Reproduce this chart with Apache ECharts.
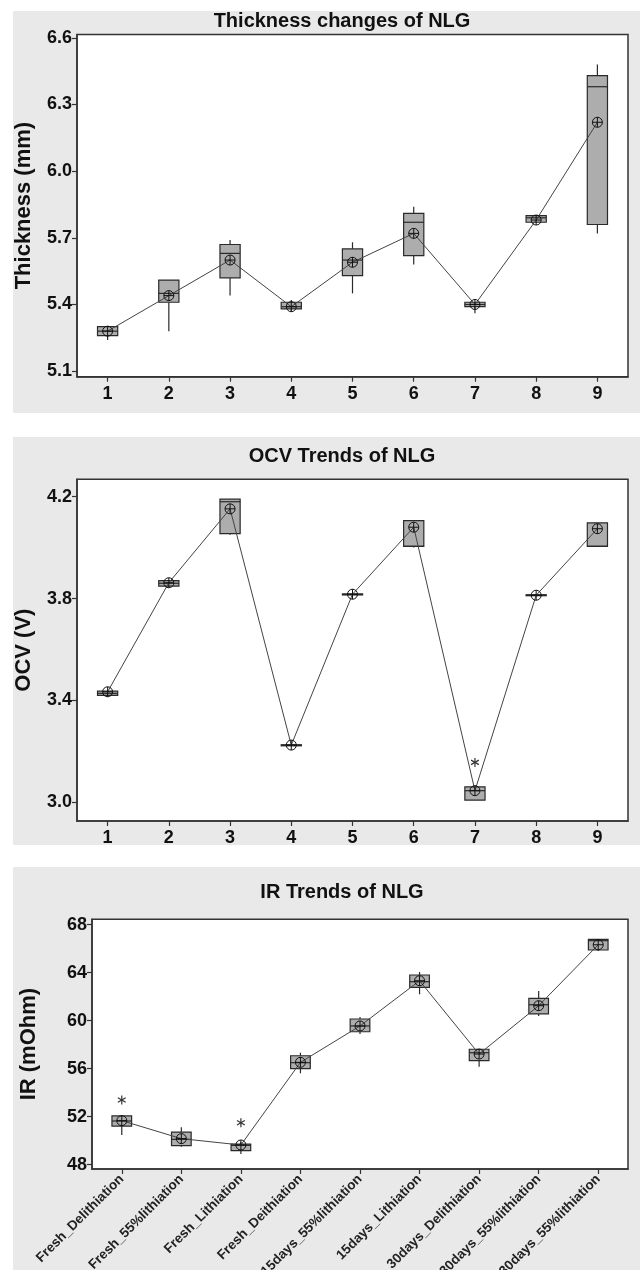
<!DOCTYPE html>
<html><head><meta charset="utf-8">
<script src="https://cdn.jsdelivr.net/npm/echarts@6/dist/echarts.min.js"></script>
<style>html,body{margin:0;padding:0;background:#fff}#c{width:640px;height:1270px}</style>
</head><body><div id="c"></div>
<script>
// ---------- Thickness panel ----------
const thkCategories = ['1','2','3','4','5','6','7','8','9'];
const thkLow  = [5.24, 5.28, 5.44, 5.37, 5.45, 5.58, 5.36, 5.77, 5.72];
const thkQ1   = [5.26, 5.41, 5.52, 5.38, 5.53, 5.62, 5.39, 5.77, 5.76];
const thkMed  = [5.28, 5.45, 5.63, 5.39, 5.60, 5.77, 5.40, 5.79, 6.38];
const thkQ3   = [5.30, 5.51, 5.67, 5.41, 5.65, 5.81, 5.41, 5.80, 6.43];
const thkHigh = [5.30, 5.51, 5.69, 5.42, 5.68, 5.84, 5.41, 5.80, 6.48];
const thkMean = [5.28, 5.44, 5.60, 5.39, 5.59, 5.72, 5.40, 5.78, 6.22];
const thkTicks = [5.1, 5.4, 5.7, 6.0, 6.3, 6.6];

// ---------- OCV panel ----------
const ocvCategories = ['1','2','3','4','5','6','7','8','9'];
const ocvLow  = [3.420, 3.848, 4.050, 3.225, 3.817, 4.000, 3.009, 3.811, 4.005];
const ocvQ1   = [3.420, 3.849, 4.055, 3.225, 3.817, 4.005, 3.009, 3.812, 4.005];
const ocvMed  = [3.428, 3.860, 4.180, 3.225, 3.817, 4.005, 3.046, 3.813, 4.005];
const ocvQ3   = [3.437, 3.870, 4.190, 3.226, 3.818, 4.106, 3.061, 3.815, 4.097];
const ocvHigh = [3.437, 3.870, 4.190, 3.226, 3.818, 4.106, 3.061, 3.815, 4.097];
const ocvMean = [3.434, 3.862, 4.152, 3.225, 3.817, 4.080, 3.046, 3.813, 4.074];
const ocvOutliers = [[6, 3.157]];
const ocvTicks = [3.0, 3.4, 3.8, 4.2];

// ---------- IR panel ----------
const irCategories = ['Fresh_Delithiation','Fresh_55%lithiation','Fresh_Lithiation','Fresh_Deithiation',
  '15days_55%lithiation','15days_Lithiation','30days_Delithiation','30days_55%lithiation','30days_55%lithiation'];
const irLow  = [50.47, 49.50, 48.89, 55.62, 58.89, 62.20, 56.17, 60.39, 65.80];
const irQ1   = [51.22, 49.58, 49.17, 56.00, 59.08, 62.78, 56.67, 60.56, 65.89];
const irMed  = [51.64, 50.11, 49.61, 56.50, 59.56, 63.25, 57.33, 61.33, 66.67];
const irQ3   = [52.06, 50.72, 49.72, 57.08, 60.14, 63.81, 57.62, 61.86, 66.78];
const irHigh = [52.06, 51.11, 49.89, 57.33, 60.30, 64.06, 57.65, 62.47, 66.78];
const irMean = [51.67, 50.17, 49.64, 56.53, 59.56, 63.33, 57.22, 61.25, 66.33];
const irOutliers = [[0, 53.39], [2, 51.50]];
const irTicks = [48, 52, 56, 60, 64, 68];

const FONT = "'Liberation Sans', Arial, sans-serif";
const INK = '#2a2a2a';

function boxData(low, q1, med, q3, high) {
  return low.map((v, i) => [i, v, q1[i], med[i], q3[i], high[i]]);
}
function meanData(mean) { return mean.map((v, i) => [i, v]); }

function renderBox(params, api) {
  const x = api.value(0);
  const pLow = api.coord([x, api.value(1)]);
  const pQ1 = api.coord([x, api.value(2)]);
  const pMed = api.coord([x, api.value(3)]);
  const pQ3 = api.coord([x, api.value(4)]);
  const pHigh = api.coord([x, api.value(5)]);
  const band = api.size([1, 0])[0];
  const w = band * 0.33;
  const cx = pLow[0];
  const left = cx - w / 2;
  const ls = () => ({ stroke: INK, lineWidth: 1.2 });
  return {
    type: 'group',
    children: [
      { type: 'line', shape: { x1: cx, y1: pLow[1], x2: cx, y2: pQ1[1] }, style: ls() },
      { type: 'line', shape: { x1: cx, y1: pQ3[1], x2: cx, y2: pHigh[1] }, style: ls() },
      { type: 'rect', shape: { x: left, y: pQ3[1], width: w, height: Math.max(pQ1[1] - pQ3[1], 1) },
        style: { fill: '#adadad', stroke: INK, lineWidth: 1.2 } },
      { type: 'line', shape: { x1: left, y1: pMed[1], x2: left + w, y2: pMed[1] }, style: ls() }
    ]
  };
}

function renderMean(params, api) {
  const p = api.coord([api.value(0), api.value(1)]);
  const r = 5;
  const st = () => ({ stroke: '#111', lineWidth: 1, fill: null });
  return {
    type: 'group',
    children: [
      { type: 'circle', shape: { cx: p[0], cy: p[1], r: r }, style: { stroke: '#111', lineWidth: 1, fill: 'rgba(0,0,0,0)' } },
      { type: 'line', shape: { x1: p[0] - r, y1: p[1], x2: p[0] + r, y2: p[1] }, style: st() },
      { type: 'line', shape: { x1: p[0], y1: p[1] - r, x2: p[0], y2: p[1] + r }, style: st() }
    ]
  };
}

function renderOutlier(params, api) {
  const p = api.coord([api.value(0), api.value(1)]);
  const s = 4.5;
  const dx = s * Math.cos(Math.PI / 6), dy = s * Math.sin(Math.PI / 6);
  const st = () => ({ stroke: '#333', lineWidth: 1.2 });
  return {
    type: 'group',
    children: [
      { type: 'line', shape: { x1: p[0], y1: p[1] - s, x2: p[0], y2: p[1] + s }, style: st() },
      { type: 'line', shape: { x1: p[0] - dx, y1: p[1] - dy, x2: p[0] + dx, y2: p[1] + dy }, style: st() },
      { type: 'line', shape: { x1: p[0] - dx, y1: p[1] + dy, x2: p[0] + dx, y2: p[1] - dy }, style: st() }
    ]
  };
}

function gridOpt(left, top, height) {
  return { left: left, right: 12, top: top, height: height, show: true, containLabel: false,
    outerBoundsMode: 'none',
    backgroundColor: '#ffffff', borderColor: '#333', borderWidth: 1.5 };
}
function xAxisOpt(idx, cats, rotated) {
  return {
    type: 'category', gridIndex: idx, data: cats, boundaryGap: true,
    axisLine: { show: true, lineStyle: { color: '#333', width: 1.5 } },
    axisTick: { show: true, alignWithLabel: true, length: 5, lineStyle: { color: '#333', width: 1.2 } },
    axisLabel: rotated
      ? { interval: 0, rotate: 45, fontFamily: FONT, fontWeight: 'bold', fontSize: 13.5, color: '#222', margin: 8 }
      : { interval: 0, fontFamily: FONT, fontWeight: 'bold', fontSize: 18, color: '#111', margin: 8 },
    splitLine: { show: false }
  };
}
function yAxisOpt(idx, min, max, ticks, decimals, name, gap) {
  return {
    type: 'value', gridIndex: idx, min: min, max: max,
    name: name, nameLocation: 'middle', nameRotate: 90, nameGap: gap,
    nameTextStyle: { fontFamily: FONT, fontWeight: 'bold', fontSize: 22, color: '#111' },
    axisLine: { show: true, lineStyle: { color: '#333', width: 1.5 } },
    axisTick: { show: true, length: 5, customValues: ticks, lineStyle: { color: '#333', width: 1.2 } },
    axisLabel: { customValues: ticks, fontFamily: FONT, fontWeight: 'bold', fontSize: 18, color: '#111', margin: 5,
      formatter: v => Number(v).toFixed(decimals) },
    splitLine: { show: false }
  };
}

function panelSeries(idx, low, q1, med, q3, high, mean, outliers) {
  const s = [
    { type: 'custom', xAxisIndex: idx, yAxisIndex: idx, renderItem: renderBox, z: 2, silent: true,
      encode: { x: 0, y: [1, 2, 3, 4, 5] }, data: boxData(low, q1, med, q3, high) },
    { type: 'line', xAxisIndex: idx, yAxisIndex: idx, data: meanData(mean), symbol: 'none', z: 3, silent: true,
      lineStyle: { color: '#444', width: 1 } },
    { type: 'custom', xAxisIndex: idx, yAxisIndex: idx, renderItem: renderMean, z: 4, silent: true,
      encode: { x: 0, y: 1 }, data: meanData(mean) }
  ];
  if (outliers && outliers.length) {
    s.push({ type: 'custom', xAxisIndex: idx, yAxisIndex: idx, renderItem: renderOutlier, z: 4, silent: true,
      encode: { x: 0, y: 1 }, data: outliers });
  }
  return s;
}

function titleText(text, y) {
  return { type: 'text', x: 342, y: y, z: 10,
    style: { text: text, fill: '#111', font: 'bold 20px ' + FONT, fontSize: 20, fontWeight: 'bold', fontFamily: FONT,
      align: 'center', verticalAlign: 'middle', textAlign: 'center', textVerticalAlign: 'middle' } };
}
function panelRect(y, h) {
  return { type: 'rect', z: -10, shape: { x: 13, y: y, width: 627, height: h }, style: { fill: '#e9e9e9' } };
}

const chart = echarts.init(document.getElementById('c'), null, { renderer: 'canvas' });
chart.setOption({
  animation: false,
  backgroundColor: '#ffffff',
  graphic: [
    panelRect(11, 402), panelRect(437, 408), panelRect(867, 403),
    titleText('Thickness changes of NLG', 21),
    titleText('OCV Trends of NLG', 456),
    titleText('IR Trends of NLG', 892)
  ],
  grid: [gridOpt(77, 34.5, 342.2), gridOpt(77, 479.3, 341.7), gridOpt(92, 919.3, 249.7)],
  xAxis: [xAxisOpt(0, thkCategories, false), xAxisOpt(1, ocvCategories, false), xAxisOpt(2, irCategories, true)],
  yAxis: [
    yAxisOpt(0, 5.075, 6.615, thkTicks, 1, 'Thickness (mm)', 42),
    yAxisOpt(1, 2.927, 4.268, ocvTicks, 1, 'OCV (V)', 42),
    yAxisOpt(2, 47.64, 68.45, irTicks, 0, 'IR (mOhm)', 52)
  ],
  series: [].concat(
    panelSeries(0, thkLow, thkQ1, thkMed, thkQ3, thkHigh, thkMean, null),
    panelSeries(1, ocvLow, ocvQ1, ocvMed, ocvQ3, ocvHigh, ocvMean, ocvOutliers),
    panelSeries(2, irLow, irQ1, irMed, irQ3, irHigh, irMean, irOutliers)
  )
});
</script>
</body></html>
